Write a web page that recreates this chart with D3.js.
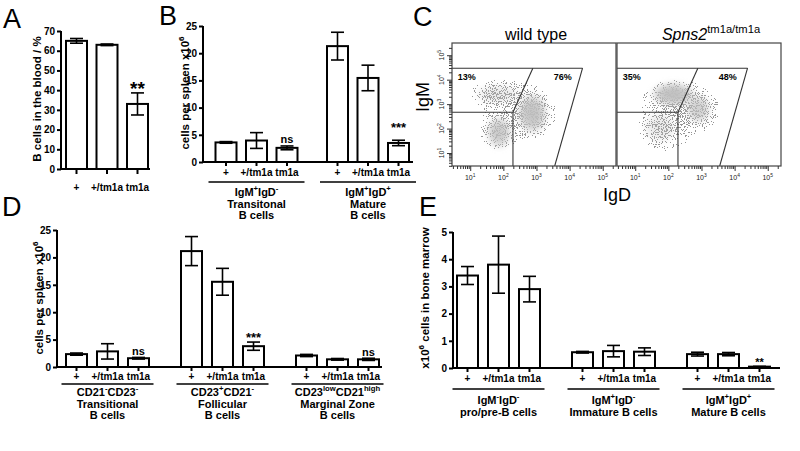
<!DOCTYPE html>
<html><head><meta charset="utf-8">
<script src="https://cdn.jsdelivr.net/npm/d3@7"></script>
<style>
body{margin:0;background:#fff}
svg{display:block}
text{font-family:"Liberation Sans",Arial,Helvetica,sans-serif}
</style>
</head><body>
<svg id="chart" width="800" height="451"></svg>
<script>
// ---------------- DATA ----------------
const genotypes = ["+", "+/tm1a", "tm1a"];

// Panel A: B cells in the blood (%)
const aValues = [[65, 63, 33]];
const aErrors = [[1.2, 0.4, 5.6]];
const aSig = [["", "", "**"]];
const aTicks = [0, 10, 20, 30, 40, 50, 60, 70];

// Panel B: spleen IgM/IgD populations (x10^6)
const bGroupLabels = [["IgM^{+}IgD^{-}", "Transitonal", "B cells"], ["IgM^{+}IgD^{+}", "Mature", "B cells"]];
const bValues = [[3.6, 3.95, 2.6], [21.3, 15.45, 3.5]];
const bErrors = [[0.15, 1.45, 0.35], [2.55, 2.35, 0.5]];
const bSig = [["", "", "ns"], ["", "", "***"]];
const bTicks = [0, 5, 10, 15, 20, 25];

// Panel D: spleen CD21/CD23 populations (x10^6)
const dGroupLabels = [["CD21^{-}CD23^{-}", "Transitional", "B cells"], ["CD23^{+}CD21^{-}", "Follicular", "B cells"], ["CD23^{low}CD21^{high}", "Marginal Zone", "B cells"]];
const dValues = [[2.35, 2.85, 1.6], [21.15, 15.55, 3.8], [2.1, 1.4, 1.4]];
const dErrors = [[0.2, 1.4, 0.15], [2.65, 2.45, 0.75], [0.2, 0.15, 0.2]];
const dSig = [["", "", "ns"], ["", "", "***"], ["", "", "ns"]];
const dTicks = [0, 5, 10, 15, 20, 25];

// Panel E: bone marrow populations (x10^6)
const eGroupLabels = [["IgM^{-}IgD^{-}", "pro/pre-B cells"], ["IgM^{+}IgD^{-}", "Immature B cells"], ["IgM^{+}IgD^{+}", "Mature B cells"]];
const eValues = [[3.4, 3.8, 2.9], [0.58, 0.62, 0.6], [0.51, 0.51, 0.05]];
const eErrors = [[0.33, 1.05, 0.47], [0.03, 0.21, 0.14], [0.07, 0.06, 0.01]];
const eSig = [["", "", ""], ["", "", ""], ["", "", "**"]];
const eTicks = [0, 1, 2, 3, 4, 5];

// Panel C: flow cytometry (log10 IgD, log10 IgM)
const cPanels = ["wild type", "Spns2^{tm1a/tm1a}"];
const cDecades = [1, 2, 3, 4, 5];
const cPercents = [["13%", "76%"], ["35%", "48%"]];
const cPercentPos = [[0.62, 4.0], [3.52, 4.0]];
// gate segments [[logIgD, logIgM], [logIgD, logIgM]]; null = axis minimum
const cGateSegments = [
  [[null, 4.47], [4.39, 4.47]],
  [[2.89, 4.47], [2.29, 2.67]],
  [[null, 2.67], [2.29, 2.67]],
  [[2.29, 2.67], [2.29, null]],
  [[4.39, 4.47], [3.55, null]]
];
// dense cores: [logIgD, logIgM, rx, ry (decades), density]
const cCores = [
  [[2.87, 2.62, 0.5, 0.9, 0.95], [1.87, 1.85, 0.42, 0.72, 0.85], [1.85, 3.4, 0.75, 0.45, 0.35]],
  [[2.15, 3.4, 0.72, 0.55, 1.0], [2.9, 2.8, 0.42, 0.65, 0.75], [1.75, 2.05, 0.55, 0.7, 0.35]]
];
// sparse scatter halos: [logIgD, logIgM, rx, ry, density]
const cHalos = [
  [[2.9, 2.7, 1.0, 1.45, 1.0], [1.85, 1.9, 0.85, 1.2, 1.0], [1.75, 3.45, 1.25, 0.85, 1.0], [1.9, 3.3, 0.8, 0.5, 0.6], [2.4, 2.6, 2.0, 2.3, 0.75]],
  [[2.2, 3.35, 1.4, 0.95, 1.0], [2.9, 2.75, 0.95, 1.1, 1.0], [1.8, 2.0, 1.05, 1.35, 1.0], [2.3, 2.5, 2.0, 2.3, 0.75]]
];

// ---------------- DRAWING ----------------
const svg = d3.select("#chart");
const defs = svg.append("defs");

function rich(sel, str, fs) {
  const parts = str.split(/(\^\{[^}]*\})/).filter(s => s.length);
  let raised = false;
  parts.forEach(p => {
    const m = p.match(/^\^\{([^}]*)\}$/);
    if (m) {
      sel.append("tspan").attr("dy", raised ? 0 : -fs * 0.42).attr("font-size", fs * 0.7).text(m[1]);
      raised = true;
    } else {
      sel.append("tspan").attr("dy", raised ? fs * 0.42 : 0).attr("font-size", fs).text(p);
      raised = false;
    }
  });
  return sel;
}

function letter(txt, x, y) {
  svg.append("text").attr("x", x).attr("y", y).attr("font-size", 27).text(txt);
}

function barPanel(cfg, values, errors, sigs, ticks, groupLabels, yLabel) {
  const g = svg.append("g");
  const nG = values.length;
  const y = d3.scaleLinear().domain([0, ticks[ticks.length - 1]]).range([cfg.yBase, cfg.yTop]);
  const pG = 1 - 3 * cfg.iStep / cfg.gStep;
  const xG = d3.scaleBand().domain(d3.range(nG))
    .range([cfg.c0 - cfg.gStep / 2, cfg.c0 + (nG - 0.5) * cfg.gStep])
    .paddingInner(pG).paddingOuter(pG / 2);
  const pI = 1 - cfg.bw / cfg.iStep;
  const xI = d3.scaleBand().domain(genotypes).range([0, xG.bandwidth()])
    .paddingInner(pI).paddingOuter(pI / 2);
  const rows = values.flatMap((vals, gi) => vals.map((v, k) => ({gi, k, v, e: errors[gi][k], s: sigs[gi][k]})));
  const xc = d => xG(d.gi) + xI(genotypes[d.k]) + xI.bandwidth() / 2;

  const ax = g.append("g").attr("transform", `translate(${cfg.x0},0)`)
    .call(d3.axisLeft(y).tickValues(ticks).tickSize(4).tickSizeOuter(0).tickPadding(2).tickFormat(d3.format("d")));
  ax.select(".domain").attr("stroke", "#000").attr("stroke-width", 2).attr("d", `M0,${cfg.yBase + 1}V${cfg.yTop}`);
  ax.selectAll(".tick line").attr("stroke", "#000").attr("stroke-width", 2);
  ax.selectAll(".tick text").attr("font-size", 10).attr("font-weight", "bold").attr("fill", "#000")
    .style("font-family", '"Liberation Sans",Arial,sans-serif');

  g.selectAll("rect.bar").data(rows).join("rect").attr("class", "bar")
    .attr("x", d => xG(d.gi) + xI(genotypes[d.k]))
    .attr("width", xI.bandwidth())
    .attr("y", d => y(d.v))
    .attr("height", d => y(0) - y(d.v))
    .attr("fill", "#fff").attr("stroke", "#000").attr("stroke-width", 2);

  const eb = g.selectAll("g.err").data(rows).join("g").attr("class", "err")
    .attr("stroke", "#000").attr("stroke-width", 1.6);
  eb.append("line").attr("x1", xc).attr("x2", xc).attr("y1", d => y(d.v - d.e)).attr("y2", d => y(d.v + d.e));
  eb.append("line").attr("x1", d => xc(d) - 6.5).attr("x2", d => xc(d) + 6.5).attr("y1", d => y(d.v + d.e)).attr("y2", d => y(d.v + d.e));
  eb.append("line").attr("x1", d => xc(d) - 6.5).attr("x2", d => xc(d) + 6.5).attr("y1", d => y(d.v - d.e)).attr("y2", d => y(d.v - d.e));

  g.append("line").attr("x1", cfg.x0 - 1).attr("x2", cfg.xEnd).attr("y1", cfg.yBase).attr("y2", cfg.yBase)
    .attr("stroke", "#000").attr("stroke-width", 2);
  g.selectAll("line.xt").data(rows).join("line").attr("class", "xt")
    .attr("x1", xc).attr("x2", xc).attr("y1", cfg.yBase).attr("y2", cfg.yBase + cfg.tickLen)
    .attr("stroke", "#000").attr("stroke-width", 2);
  g.selectAll("text.xl").data(rows).join("text").attr("class", "xl")
    .attr("x", xc).attr("y", cfg.labY).attr("text-anchor", "middle")
    .attr("font-size", 10).attr("font-weight", "bold").text(d => genotypes[d.k]);

  g.selectAll("text.sig").data(rows.filter(d => d.s)).join("text").attr("class", "sig")
    .attr("x", xc).attr("text-anchor", "middle").attr("font-weight", "bold")
    .attr("y", d => y(d.v + d.e) + (d.s === "ns" ? -2.5 : cfg.sigDy))
    .attr("font-size", d => d.s === "ns" ? 11 : cfg.sigFs)
    .text(d => d.s);

  if (groupLabels) {
    groupLabels.forEach((lines, gi) => {
      const cx = xG(gi) + xG.bandwidth() / 2;
      g.append("line").attr("x1", cx - cfg.gHalf).attr("x2", cx + cfg.gHalf)
        .attr("y1", cfg.gLineY).attr("y2", cfg.gLineY).attr("stroke", "#000").attr("stroke-width", 1.3);
      lines.forEach((ln, li) => {
        const t = g.append("text").attr("x", cx).attr("y", cfg.gLab0 + li * cfg.gLabStep)
          .attr("text-anchor", "middle").attr("font-weight", "bold");
        rich(t, ln, 11);
      });
    });
  }

  const yl = g.append("text").attr("transform", `translate(${cfg.ylx},${cfg.yly}) rotate(-90)`)
    .attr("text-anchor", "middle").attr("font-weight", "bold");
  rich(yl, yLabel, 11.5);
}

letter("A", 3, 28);
barPanel({x0: 61, xEnd: 150, yBase: 169, yTop: 31, c0: 107, gStep: 91.5, iStep: 30.5, bw: 21,
  tickLen: 5, labY: 191, sigDy: 2, sigFs: 19, ylx: 41, yly: 99},
  aValues, aErrors, aSig, aTicks, null, "B cells in the blood / %");

letter("B", 159, 25);
barPanel({x0: 203, xEnd: 413, yBase: 162, yTop: 26, c0: 256.5, gStep: 111.5, iStep: 30.5, bw: 21,
  tickLen: 4, labY: 176, sigDy: -8, sigFs: 13, ylx: 189, yly: 93,
  gLineY: 182, gHalf: 48, gLab0: 196, gLabStep: 11.5},
  bValues, bErrors, bSig, bTicks, bGroupLabels, "cells per spleen x10^{6}");

letter("D", 2, 216);
barPanel({x0: 57, xEnd: 382, yBase: 367, yTop: 230, c0: 107.5, gStep: 115, iStep: 31, bw: 21,
  tickLen: 4, labY: 380, sigDy: 0, sigFs: 13, ylx: 43, yly: 298,
  gLineY: 384, gHalf: 46, gLab0: 396, gLabStep: 11.5},
  dValues, dErrors, dSig, dTicks, dGroupLabels, "cells per spleen x10^{6}");

letter("E", 419, 216);
barPanel({x0: 453, xEnd: 780, yBase: 368, yTop: 232, c0: 498.5, gStep: 115, iStep: 31, bw: 21,
  tickLen: 4, labY: 382, sigDy: 0, sigFs: 11, ylx: 429, yly: 298,
  gLineY: 389, gHalf: 46, gLab0: 404, gLabStep: 11.5},
  eValues, eErrors, eSig, eTicks, eGroupLabels, "x10^{6} cells in bone marrow");

// ---------------- Panel C ----------------
letter("C", 413, 26);

const fil = defs.append("filter").attr("id", "speckle").attr("filterUnits", "userSpaceOnUse")
  .attr("x", 440).attr("y", 30).attr("width", 360).attr("height", 150)
  .attr("color-interpolation-filters", "sRGB");
fil.append("feTurbulence").attr("type", "fractalNoise").attr("baseFrequency", 0.9).attr("numOctaves", 1).attr("seed", 7).attr("result", "noise");
fil.append("feColorMatrix").attr("in", "noise").attr("type", "matrix")
  .attr("values", "0 0 0 0 0  0 0 0 0 0  0 0 0 0 0  3.2 0 0 0 -1.12").attr("result", "nA");
fil.append("feComposite").attr("in", "SourceAlpha").attr("in2", "nA").attr("operator", "arithmetic")
  .attr("k1", 0).attr("k2", 1).attr("k3", 1).attr("k4", -1).attr("result", "sum");
const ct = fil.append("feComponentTransfer").attr("in", "sum").attr("result", "thr");
ct.append("feFuncA").attr("type", "discrete").attr("tableValues", "0 1");
fil.append("feFlood").attr("flood-color", "#959595").attr("result", "col");
fil.append("feComposite").attr("in", "col").attr("in2", "thr").attr("operator", "in");

const blur = defs.append("filter").attr("id", "soft").attr("x", "-50%").attr("y", "-50%").attr("width", "200%").attr("height", "200%");
blur.append("feGaussianBlur").attr("stdDeviation", 2.5);

const haloGrad = defs.append("radialGradient").attr("id", "haloGrad");
haloGrad.append("stop").attr("offset", "0%").attr("stop-color", "#000").attr("stop-opacity", 1);
haloGrad.append("stop").attr("offset", "100%").attr("stop-color", "#000").attr("stop-opacity", 0);

const coreGrad = defs.append("radialGradient").attr("id", "coreGrad");
coreGrad.append("stop").attr("offset", "0%").attr("stop-color", "#bebebe").attr("stop-opacity", 1);
coreGrad.append("stop").attr("offset", "55%").attr("stop-color", "#c2c2c2").attr("stop-opacity", 0.9);
coreGrad.append("stop").attr("offset", "100%").attr("stop-color", "#c8c8c8").attr("stop-opacity", 0);

const boxesX = [[452, 616], [617, 781]];
const boxY = [166, 43];
const logX = [0.45, 5.4], logY = [0.47, 5.5];

cPanels.forEach((title, pi) => {
  const g = svg.append("g");
  const x = d3.scaleLog().domain([10 ** logX[0], 10 ** logX[1]]).range(boxesX[pi]);
  const y = d3.scaleLog().domain([10 ** logY[0], 10 ** logY[1]]).range(boxY);
  const X = v => x(10 ** (v === null ? logX[0] : v));
  const Y = v => y(10 ** (v === null ? logY[0] : v));
  const cid = "clipC" + pi;
  defs.append("clipPath").attr("id", cid).append("rect")
    .attr("x", boxesX[pi][0]).attr("y", boxY[1]).attr("width", boxesX[pi][1] - boxesX[pi][0]).attr("height", boxY[0] - boxY[1]);
  const plot = g.append("g").attr("clip-path", `url(#${cid})`);

  const hal = plot.append("g").attr("filter", "url(#speckle)");
  hal.selectAll("ellipse").data(cHalos[pi]).join("ellipse")
    .attr("cx", d => X(d[0])).attr("cy", d => Y(d[1]))
    .attr("rx", d => X(d[0] + d[2]) - X(d[0])).attr("ry", d => Y(d[1]) - Y(d[1] + d[3]))
    .attr("fill", "url(#haloGrad)").attr("fill-opacity", d => d[4]);
  plot.append("g").attr("filter", "url(#soft)").selectAll("ellipse").data(cCores[pi]).join("ellipse")
    .attr("cx", d => X(d[0])).attr("cy", d => Y(d[1]))
    .attr("rx", d => X(d[0] + d[2]) - X(d[0])).attr("ry", d => Y(d[1]) - Y(d[1] + d[3]))
    .attr("fill", "url(#coreGrad)").attr("fill-opacity", d => d[4]);

  plot.selectAll("line.gate").data(cGateSegments).join("line").attr("class", "gate")
    .attr("x1", d => X(d[0][0])).attr("y1", d => Y(d[0][1]))
    .attr("x2", d => X(d[1][0])).attr("y2", d => Y(d[1][1]))
    .attr("stroke", "#333").attr("stroke-width", 1.1);

  g.append("rect").attr("x", boxesX[pi][0]).attr("y", boxY[1])
    .attr("width", boxesX[pi][1] - boxesX[pi][0]).attr("height", boxY[0] - boxY[1])
    .attr("fill", "none").attr("stroke", "#444").attr("stroke-width", 1.2);

  cPercents[pi].forEach((p, k) => {
    g.append("text").attr("x", X(cPercentPos[k][0])).attr("y", Y(cPercentPos[k][1]))
      .attr("font-size", 9).attr("font-weight", "bold").text(p);
  });

  const majors = cDecades.map(e => 10 ** e);
  const minors = [];
  for (let e = 0; e <= 5; e++) for (let m = 2; m <= 9; m++) {
    const v = m * 10 ** e;
    if (Math.log10(v) > logX[0] && Math.log10(v) < logX[1]) minors.push(v);
  }
  const xa = g.append("g").attr("transform", `translate(0,${boxY[0]})`)
    .call(d3.axisBottom(x).tickValues(majors).tickSize(5).tickFormat(() => ""));
  const xm = g.append("g").attr("transform", `translate(0,${boxY[0]})`)
    .call(d3.axisBottom(x).tickValues(minors).tickSize(3).tickFormat(() => ""));
  [xa, xm].forEach(a => { a.select(".domain").remove(); a.selectAll("line").attr("stroke", "#333"); });
  majors.forEach((v, i) => {
    const t = g.append("text").attr("x", x(v)).attr("y", 180).attr("text-anchor", "middle").attr("fill", "#222");
    rich(t, "10^{" + cDecades[i] + "}", 7);
  });
  if (pi === 0) {
    const minorsY = minors.filter(v => Math.log10(v) > logY[0]);
    const ya = g.append("g").attr("transform", `translate(${boxesX[pi][0]},0)`)
      .call(d3.axisLeft(y).tickValues(majors).tickSize(5).tickFormat(() => ""));
    const ym = g.append("g").attr("transform", `translate(${boxesX[pi][0]},0)`)
      .call(d3.axisLeft(y).tickValues(minorsY).tickSize(3).tickFormat(() => ""));
    [ya, ym].forEach(a => { a.select(".domain").remove(); a.selectAll("line").attr("stroke", "#333"); });
    majors.forEach((v, i) => {
      const t = g.append("text").attr("transform", `translate(444,${y(v)}) rotate(-90)`)
        .attr("text-anchor", "middle").attr("fill", "#222");
      rich(t, "10^{" + cDecades[i] + "}", 7);
    });
  }

  const tt = g.append("text").attr("x", (boxesX[pi][0] + boxesX[pi][1]) / 2 + (pi === 1 ? 12 : 2)).attr("y", 40)
    .attr("text-anchor", "middle");
  rich(tt, title, 16);
  if (pi === 1) tt.select("tspan").attr("font-style", "italic");
});

svg.append("text").attr("transform", "translate(429,97) rotate(-90)").attr("text-anchor", "middle")
  .attr("font-size", 18).text("IgM");
svg.append("text").attr("x", 617).attr("y", 201).attr("text-anchor", "middle")
  .attr("font-size", 18).text("IgD");
</script>
</body></html>
